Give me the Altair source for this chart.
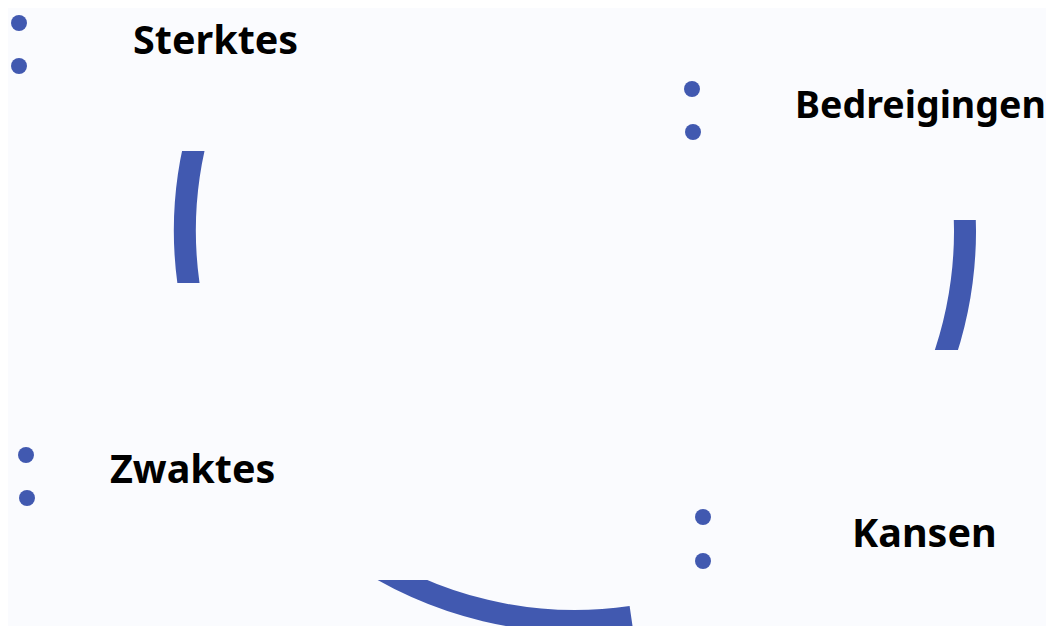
import altair as alt
import pandas as pd

# ---- data (page-pixel units of the reference picture) ----
labels = ["Sterktes", "Bedreigingen", "Zwaktes", "Kansen"]
label_x = [133, 795, 110, 852]
label_y = [54, 118, 483, 547]

dot_x = [19, 19, 692, 693, 26, 27, 703, 703]
dot_y = [23, 66, 89, 132, 455, 498, 517, 561]

# ring pieces: start / end angle (radians, clockwise from 12 o'clock)
seg_names = ["links", "rechts", "onder"]
seg_start = [4.50, 1.40, 2.997]
seg_end = [5.00, 2.00, 3.75]
ring_cx = 575
ring_cy = 231
ring_outer = 401
ring_inner = 379

# background-coloured covers that cut the ring pieces off horizontally
cover_x1 = [150, 150, 880, 880, 300]
cover_x2 = [260, 260, 1054, 1054, 480]
cover_y1 = [60, 283, 100, 350, 500]
cover_y2 = [151, 400, 220, 420, 580]

BG = "#fafbfe"
BLUE = "#4159b0"

xs = alt.Scale(domain=[8, 1046])
ys = alt.Scale(domain=[626, 8])

seg_df = pd.DataFrame({
    "name": seg_names,
    "t0": seg_start,
    "t1": seg_end,
    "cx": [ring_cx] * 3,
    "cy": [ring_cy] * 3,
})
cover_df = pd.DataFrame({"x1": cover_x1, "x2": cover_x2, "y1": cover_y1, "y2": cover_y2})
dot_df = pd.DataFrame({"x": dot_x, "y": dot_y})
lab_df = pd.DataFrame({"label": labels, "x": label_x, "y": label_y})

ring = alt.Chart(seg_df).mark_arc(
    color=BLUE, radius=ring_outer, radius2=ring_inner
).encode(
    x=alt.X("cx:Q", scale=xs, axis=None),
    y=alt.Y("cy:Q", scale=ys, axis=None),
    theta=alt.Theta("t0:Q", scale=None, stack=None),
    theta2="t1:Q",
)

covers = alt.Chart(cover_df).mark_rect(color=BG).encode(
    x=alt.X("x1:Q", scale=xs, axis=None),
    x2="x2:Q",
    y=alt.Y("y1:Q", scale=ys, axis=None),
    y2="y2:Q",
)

dots = alt.Chart(dot_df).mark_point(
    filled=True, shape="circle", size=255, color=BLUE, opacity=1
).encode(
    x=alt.X("x:Q", scale=xs, axis=None),
    y=alt.Y("y:Q", scale=ys, axis=None),
)

text_base = alt.Chart(lab_df).encode(
    x=alt.X("x:Q", scale=xs, axis=None),
    y=alt.Y("y:Q", scale=ys, axis=None),
    text="label:N",
)

text_main = text_base.transform_filter(
    alt.datum.label != "Bedreigingen"
).mark_text(
    align="left", baseline="alphabetic", font="Noto Sans",
    fontWeight="bold", fontSize=39.5, color="#000000"
)

# the right-hand label sits against the page edge: slightly smaller so it fits
text_edge = text_base.transform_filter(
    alt.datum.label == "Bedreigingen"
).mark_text(
    align="left", baseline="alphabetic", font="Noto Sans",
    fontWeight="bold", fontSize=37.6, color="#000000"
)

chart = alt.layer(ring, covers, dots, text_main, text_edge).properties(
    width=1038, height=618, padding=0,
    autosize=alt.AutoSizeParams(type="none"),
    background=BG,
).configure_view(stroke=None)

chart.save("out.html", embed_options={"renderer": "svg", "actions": False})
